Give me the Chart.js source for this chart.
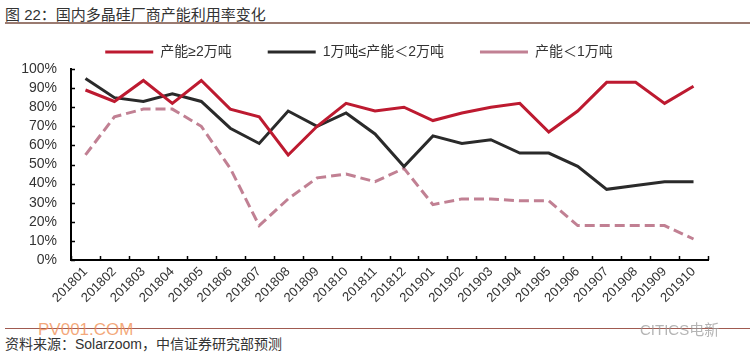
<!DOCTYPE html>
<html>
<head>
<meta charset="utf-8">
<script src="https://cdn.jsdelivr.net/npm/chart.js@4"></script>
<style>
  body { margin: 0; background: #fff; font-family: "Liberation Sans", "Noto Sans CJK SC", sans-serif; }
  #wrap { position: relative; width: 750px; height: 359px; overflow: hidden; background: #fff; }
  #title { position: absolute; left: 5px; top: 3px; font-size: 15px; color: #333; white-space: nowrap; }
  #topline { position: absolute; left: 5px; top: 22px; width: 745px; height: 2px; background: #9a7a70; }
  #botline { position: absolute; left: 5px; top: 328px; width: 745px; height: 1px; background: #a05a50; }
  #source { position: absolute; left: 5px; top: 333px; font-size: 14px; color: #333; white-space: nowrap; }
  #mark1 { position: absolute; left: 38px; top: 320px; font-size: 17px; color: rgba(240, 140, 80, 0.75); }
  #mark2 { position: absolute; left: 640px; top: 318px; font-size: 15px; color: rgba(150, 150, 150, 0.7); }
  #chartBox { position: absolute; left: 0; top: 0; width: 750px; height: 320px; }
</style>
</head>
<body>
<div id="wrap">
  <div id="title">图 22：国内多晶硅厂商产能利用率变化</div>
  <div id="topline"></div>
  <div id="chartBox"><canvas id="lineChart"></canvas></div>
  <div id="botline"></div>
  <div id="mark1">PV001.COM</div>
  <div id="mark2">CITICS电新</div>
  <div id="source">资料来源：Solarzoom，中信证券研究部预测</div>
</div>
<script>
const months = ['201801', '201802', '201803', '201804', '201805', '201806', '201807', '201808', '201809', '201810', '201811', '201812',
    '201901', '201902', '201903', '201904', '201905', '201906', '201907', '201908', '201909', '201910'];

// 产能≥2万吨
const bigCap = [89, 83, 94, 82, 94, 79, 75, 55, 70, 82, 78, 80, 73, 77, 80, 82, 67, 78, 93, 93, 82, 91];
// 1万吨≤产能<2万吨
const midCap = [95, 85, 83, 87, 83, 69, 61, 78, 70, 77, 66, 49, 65, 61, 63, 56, 56, 49, 37, 39, 41, 41];
// 产能<1万吨
const smallCap = [55, 75, 79, 79, 70, 48, 18, 32, 43, 45, 41, 48, 29, 32, 32, 31, 31, 18, 18, 18, 18, 11];

const yTicks = [0, 10, 20, 30, 40, 50, 60, 70, 80, 90, 100];

const fontFamily = '"Liberation Sans", "Noto Sans CJK SC", sans-serif';

// small tick marks drawn on the inside of both axes
const innerTicks = {
    id: 'innerTicks',
    afterDraw(chart) {
        const ctx = chart.ctx;
        const area = chart.chartArea;
        const x = chart.scales.x;
        const y = chart.scales.y;
        ctx.save();
        ctx.strokeStyle = '#000';
        ctx.lineWidth = 1.5;
        ctx.beginPath();
        yTicks.forEach(v => {
            const py = Math.round(y.getPixelForValue(v)) + 0.5;
            ctx.moveTo(area.left, py);
            ctx.lineTo(area.left + 4, py);
        });
        for (let i = 0; i <= months.length; i++) {
            const px = Math.round(x.getPixelForValue(i - 0.5)) + 0.5;
            ctx.moveTo(px, area.bottom);
            ctx.lineTo(px, area.bottom - 4);
        }
        ctx.stroke();
        ctx.restore();
    }
};

function LineChart() {
    const ctx = document.getElementById('lineChart').getContext('2d');

    const data = {
        labels: months,
        datasets: [
            {
                label: '产能≥2万吨',
                data: bigCap,
                borderColor: '#bd1a30',
                backgroundColor: '#bd1a30',
                borderWidth: 3,
                pointRadius: 0,
                fill: false
            },
            {
                label: '1万吨≤产能＜2万吨',
                data: midCap,
                borderColor: '#2a2a2a',
                backgroundColor: '#2a2a2a',
                borderWidth: 3,
                pointRadius: 0,
                fill: false
            },
            {
                label: '产能＜1万吨',
                data: smallCap,
                borderColor: '#c18093',
                backgroundColor: '#c18093',
                borderWidth: 3,
                borderDash: [10, 5],
                pointRadius: 0,
                fill: false
            }
        ]
    };

    const options = {
        responsive: true,
        maintainAspectRatio: false,
        animation: false,
        layout: {
            padding: { left: 10, right: 42, top: 9, bottom: 0 }
        },
        plugins: {
            legend: {
                position: 'top',
                labels: {
                    usePointStyle: true,
                    pointStyle: 'line',
                    pointStyleWidth: 48,
                    padding: 36,
                    color: '#333',
                    font: { family: fontFamily, size: 14 }
                }
            },
            tooltip: { enabled: false }
        },
        scales: {
            x: {
                offset: true,
                grid: { display: true, drawOnChartArea: false, drawTicks: false, offset: true },
                border: { color: '#000', width: 2 },
                ticks: {
                    color: '#333',
                    autoSkip: false,
                    minRotation: 45,
                    maxRotation: 45,
                    padding: 4,
                    font: { family: fontFamily, size: 13 }
                },
                afterFit(scale) { scale.height = 60; }
            },
            y: {
                min: 0,
                max: 100,
                grid: { display: false, drawTicks: false },
                border: { color: '#000', width: 2 },
                afterBuildTicks(scale) { scale.ticks = yTicks.map(v => ({ value: v })); },
                ticks: {
                    color: '#333',
                    autoSkip: false,
                    padding: 14,
                    font: { family: fontFamily, size: 14 },
                    callback: v => v + '%'
                },
                afterFit(scale) { scale.width = 61; }
            }
        }
    };

    const config = {
        type: 'line',
        data: data,
        options: options,
        plugins: [innerTicks]
    };

    new Chart(ctx, config);
}

LineChart();
</script>
</body>
</html>
